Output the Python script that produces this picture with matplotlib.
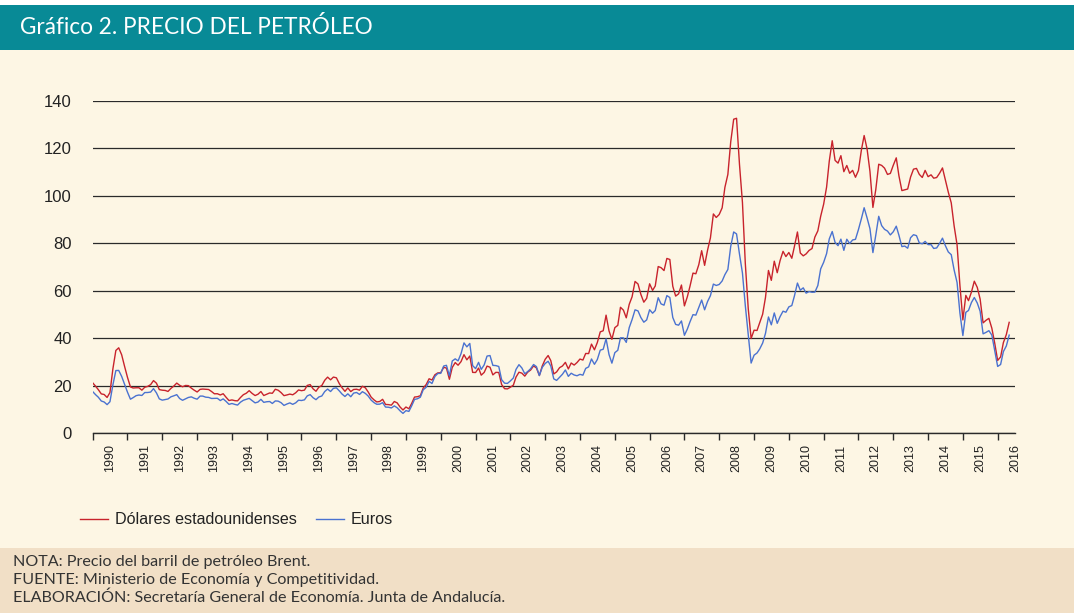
import matplotlib
matplotlib.use("Agg")
import matplotlib.pyplot as plt
import matplotlib.dates as mdates
from matplotlib.patches import Rectangle
import pandas as pd

plt.rcParams['font.family'] = ['Liberation Sans', 'DejaVu Sans']

# Brent, media mensual (ene-1990 .. may-2016)
usd = [
    21.25, 19.81, 18.39, 16.61, 16.35, 15.10, 17.17, 27.17, 34.90, 36.02, 33.07, 28.27,  # 1990
    23.57, 19.54, 19.08, 19.18, 19.19, 18.17, 19.40, 19.77, 20.50, 22.21, 21.11, 18.41,  # 1991
    18.16, 18.05, 17.63, 18.92, 19.89, 21.16, 20.23, 19.61, 20.15, 20.08, 19.03, 18.17,  # 1992
    17.40, 18.51, 18.65, 18.57, 18.45, 17.61, 16.65, 16.67, 16.15, 16.67, 15.16, 13.80,  # 1993
    14.06, 13.75, 13.67, 15.09, 16.27, 16.89, 17.96, 16.80, 15.90, 16.45, 17.60, 15.91,  # 1994
    16.48, 17.00, 16.85, 18.55, 18.16, 17.14, 15.86, 16.16, 16.52, 16.23, 17.07, 18.27,  # 1995
    17.95, 18.19, 20.16, 20.52, 18.76, 17.71, 19.43, 20.12, 22.36, 23.67, 22.53, 23.69,  # 1996
    23.38, 20.90, 19.20, 17.68, 19.12, 17.57, 18.46, 18.57, 18.17, 19.82, 19.16, 17.40,  # 1997
    15.23, 14.05, 13.21, 13.40, 14.32, 12.15, 12.09, 11.86, 13.40, 12.81, 11.05, 9.82,   # 1998
    11.08, 10.34, 12.49, 15.27, 15.41, 15.82, 19.06, 20.53, 22.98, 22.44, 24.67, 25.44,  # 1999
    25.51, 27.77, 27.49, 22.76, 27.74, 29.80, 28.68, 30.20, 33.14, 30.96, 32.55, 25.66,  # 2000
    25.62, 27.50, 24.50, 25.66, 28.31, 27.85, 24.61, 25.68, 25.62, 20.54, 18.80, 18.71,  # 2001
    19.42, 20.28, 23.70, 25.73, 25.35, 24.08, 25.74, 26.65, 28.40, 27.54, 24.34, 28.33,  # 2002
    31.18, 32.77, 30.61, 25.00, 25.86, 27.65, 28.35, 29.89, 27.11, 29.61, 28.75, 29.81,  # 2003
    31.28, 30.86, 33.63, 33.59, 37.57, 35.18, 38.22, 42.74, 43.20, 49.78, 43.11, 39.60,  # 2004
    44.51, 45.48, 53.10, 51.88, 48.65, 54.35, 57.52, 63.98, 62.91, 58.54, 55.24, 56.86,  # 2005
    62.99, 60.21, 62.06, 70.26, 69.78, 68.56, 73.67, 73.23, 61.96, 57.81, 58.76, 62.47,  # 2006
    53.68, 57.56, 62.05, 67.49, 67.21, 71.05, 76.93, 70.76, 77.17, 82.34, 92.41, 90.93,  # 2007
    92.18, 94.99, 103.64, 109.07, 122.80, 132.32, 132.72, 113.24, 97.23, 71.58, 52.45, 39.95,  # 2008
    43.44, 43.32, 46.54, 50.18, 57.30, 68.61, 64.44, 72.51, 67.65, 72.77, 76.66, 74.46,  # 2009
    76.17, 73.75, 78.83, 84.82, 75.95, 74.76, 75.58, 77.04, 77.84, 82.67, 85.28, 91.45,  # 2010
    96.52, 103.72, 114.64, 123.26, 114.99, 113.83, 116.97, 110.22, 112.83, 109.55, 110.77, 107.87,  # 2011
    110.69, 119.33, 125.45, 119.75, 110.34, 95.16, 102.62, 113.36, 112.86, 111.71, 109.06, 109.49,  # 2012
    112.96, 116.05, 108.47, 102.25, 102.56, 102.92, 107.93, 111.28, 111.60, 109.08, 107.79, 110.76,  # 2013
    108.12, 108.90, 107.48, 107.76, 109.54, 111.80, 106.77, 101.61, 97.09, 87.43, 79.44, 62.34,  # 2014
    47.76, 58.10, 55.89, 59.52, 64.08, 61.48, 56.56, 46.52, 47.62, 48.43, 44.27, 38.01,  # 2015
    30.70, 32.18, 38.21, 41.58, 46.74,  # 2016
]

eur = [
    17.56, 16.24, 15.20, 13.61, 13.19, 12.08, 13.31, 20.43, 26.44, 26.49, 23.96, 20.64,  # 1990
    17.33, 14.37, 15.02, 15.85, 16.13, 15.94, 17.17, 17.19, 17.37, 18.82, 17.02, 14.50,  # 1991
    13.97, 14.21, 14.45, 15.38, 15.79, 16.28, 14.66, 13.91, 14.50, 15.10, 15.35, 14.77,  # 1992
    14.38, 15.69, 15.67, 15.22, 15.12, 14.68, 14.73, 14.75, 13.80, 14.50, 13.42, 12.20,  # 1993
    12.55, 12.17, 11.89, 13.12, 13.91, 14.31, 14.72, 13.77, 12.82, 13.16, 14.31, 13.04,  # 1994
    13.29, 13.39, 12.57, 13.64, 13.55, 12.89, 11.75, 12.34, 12.81, 12.20, 12.83, 13.95,  # 1995
    13.81, 14.10, 15.75, 16.29, 15.01, 14.17, 15.30, 15.72, 17.61, 18.64, 17.60, 18.95,  # 1996
    19.16, 17.86, 16.55, 15.51, 16.63, 15.41, 16.94, 17.19, 16.37, 17.54, 16.81, 15.68,  # 1997
    13.97, 12.89, 12.23, 12.29, 12.90, 11.05, 10.99, 10.68, 11.55, 10.76, 9.44, 8.39,    # 1998
    9.55, 9.23, 11.46, 14.27, 14.54, 15.21, 18.33, 19.37, 21.89, 20.97, 23.95, 25.19,    # 1999
    25.26, 28.34, 28.64, 24.21, 30.48, 31.37, 30.51, 33.56, 38.09, 36.42, 37.85, 28.51,  # 2000
    27.26, 29.89, 26.92, 28.83, 32.54, 32.76, 28.62, 28.53, 28.15, 22.57, 21.12, 21.02,  # 2001
    22.07, 23.31, 26.93, 28.91, 27.55, 25.08, 26.00, 27.19, 28.98, 28.10, 24.34, 27.77,  # 2002
    29.42, 30.34, 28.34, 22.94, 22.29, 23.63, 24.87, 26.69, 23.99, 25.31, 24.57, 24.24,  # 2003
    24.83, 24.49, 27.34, 27.99, 31.31, 29.07, 31.07, 35.03, 35.41, 39.82, 33.16, 29.55,  # 2004
    33.98, 34.98, 40.23, 40.22, 38.31, 44.55, 47.93, 52.02, 51.57, 48.78, 46.81, 47.78,  # 2005
    52.06, 50.60, 51.72, 57.12, 54.52, 53.98, 58.01, 57.21, 48.79, 45.88, 45.55, 47.33,  # 2006
    41.29, 43.94, 47.01, 49.99, 49.79, 53.02, 56.15, 52.03, 55.52, 57.99, 62.86, 62.28,  # 2007
    62.71, 64.18, 66.86, 69.03, 78.72, 84.82, 84.00, 75.49, 67.52, 53.82, 41.30, 29.59,  # 2008
    32.91, 33.84, 35.53, 38.02, 42.13, 49.01, 45.70, 50.71, 46.34, 49.17, 51.45, 51.00,  # 2009
    53.27, 53.83, 57.96, 63.30, 60.28, 61.28, 59.05, 59.72, 59.42, 59.47, 62.25, 69.28,  # 2010
    72.03, 75.71, 81.89, 85.01, 80.41, 79.05, 81.80, 77.08, 81.76, 79.96, 81.45, 81.72,  # 2011
    85.81, 90.40, 95.04, 90.72, 86.20, 76.13, 83.43, 91.42, 87.49, 85.93, 85.20, 83.58,  # 2012
    84.93, 87.26, 83.44, 78.65, 78.89, 77.97, 82.39, 83.67, 83.28, 80.21, 79.84, 80.85,  # 2013
    79.50, 79.49, 77.88, 78.09, 79.96, 82.21, 79.09, 76.40, 75.26, 68.84, 63.55, 50.68,  # 2014
    41.17, 50.96, 51.75, 55.11, 57.21, 54.89, 51.42, 41.91, 42.52, 43.24, 41.37, 34.87,  # 2015
    28.17, 28.99, 34.42, 36.80, 41.36,  # 2016
]

months = pd.date_range("1990-01-01", periods=len(usd), freq="MS")

title = "Gráfico 2. PRECIO DEL PETRÓLEO"
notes = [
    "NOTA: Precio del barril de petróleo Brent.",
    "FUENTE: Ministerio de Economía y Competitividad.",
    "ELABORACIÓN: Secretaría General de Economía. Junta de Andalucía.",
]

W, H = 1074, 613
fig = plt.figure(figsize=(W / 100, H / 100), dpi=100)
fig.patch.set_facecolor('#FDF6E4')

# header band, white strip on top, footer band
fig.add_artist(Rectangle((0, 1 - 50 / H), 1, 45 / H, transform=fig.transFigure,
                         facecolor='#088A96', edgecolor='none', zorder=0))
fig.add_artist(Rectangle((0, 1 - 5 / H), 1, 5 / H, transform=fig.transFigure,
                         facecolor='white', edgecolor='none', zorder=0))
fig.add_artist(Rectangle((0, 0), 1, 65 / H, transform=fig.transFigure,
                         facecolor='#F1DFC6', edgecolor='none', zorder=0))

fig.text(20 / W, 1 - 27 / H, title, color='white', fontsize=16.3,
         family=['Lato', 'DejaVu Sans'], va='center', ha='left')
for i, line in enumerate(notes):
    fig.text(13 / W, 1 - (562 + 18 * i) / H, line, color='#333333', fontsize=11.6,
             family=['Lato', 'DejaVu Sans'], va='center', ha='left')

ax = fig.add_axes([92.7 / W, 1 - 433.3 / H, (1015 - 92.7) / W, (433.3 - 101) / H])
ax.set_facecolor('none')

l1, = ax.plot(months, usd, color='#C8232C', lw=1.0, label='Dólares estadounidenses')
l2, = ax.plot(months, eur, color='#4A72D0', lw=1.0, label='Euros')

ax.set_ylim(0, 140)
ax.set_yticks(range(0, 141, 20))
ax.yaxis.grid(True, color='#2a2a2a', lw=0.9)
ax.set_axisbelow(True)

ax.set_xlim(pd.Timestamp("1990-01-01"), pd.Timestamp("2016-07-01"))
ax.xaxis.set_major_locator(mdates.YearLocator())
ax.xaxis.set_major_formatter(plt.NullFormatter())
ax.xaxis.set_minor_locator(mdates.MonthLocator(bymonth=7, bymonthday=1))
ax.xaxis.set_minor_formatter(mdates.DateFormatter('%Y'))

for s in ['top', 'right', 'left']:
    ax.spines[s].set_visible(False)
ax.spines['bottom'].set_color('#2a2a2a')
ax.spines['bottom'].set_linewidth(1.0)

ax.tick_params(axis='x', which='major', direction='out', length=5, width=1, color='#2a2a2a')
ax.tick_params(axis='x', which='minor', length=0, pad=8, labelsize=9, labelrotation=90,
               labelcolor='#222222')
ax.tick_params(axis='y', length=0, pad=15, labelsize=12, labelcolor='#222222')

fig.legend(handles=[l1, l2], loc='center left', bbox_to_anchor=(80 / W, 1 - 520 / H),
           frameon=False, ncol=2, fontsize=11.6, handlelength=1.75, handletextpad=0.4,
           columnspacing=1.2, borderpad=0, borderaxespad=0, labelcolor='#222222')

fig.savefig('out.png', dpi=100, facecolor=fig.get_facecolor())
